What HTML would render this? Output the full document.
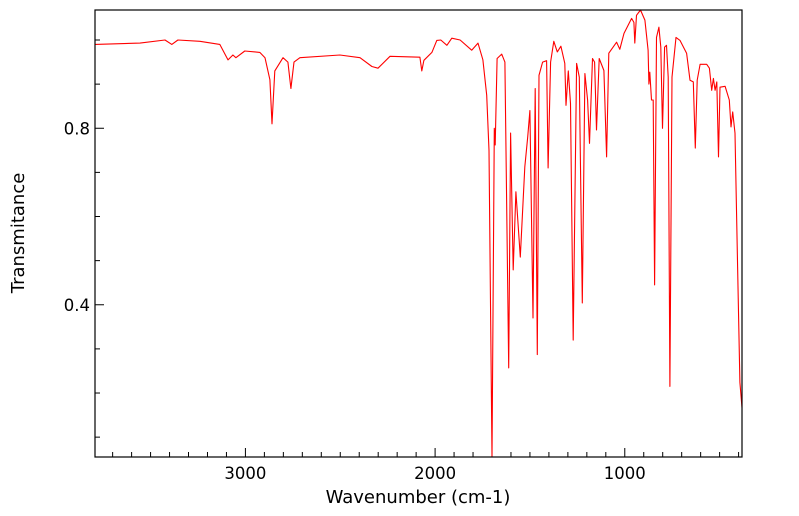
<!DOCTYPE html>
<html><head><meta charset="utf-8"><style>
body{margin:0;background:#fff}
svg{display:block;font-family:"DejaVu Sans","Liberation Sans",sans-serif}
</style></head><body>
<svg id="chart" width="799" height="516" viewBox="0 0 799 516" xmlns="http://www.w3.org/2000/svg">
<rect x="0" y="0" width="799" height="516" fill="#fff"/>
<g id="ticks"></g>
<path id="line" fill="none" stroke="#ff0000" stroke-width="1.1" stroke-linejoin="round"/>
<rect x="95" y="10" width="647" height="447" fill="none" stroke="#000" stroke-width="1.2"/>
<text x="418" y="503" text-anchor="middle" font-size="18">Wavenumber (cm-1)</text>
<text transform="translate(24,233) rotate(-90)" text-anchor="middle" font-size="18">Transmitance</text>
</svg>
<script>
const wavenumbers=[3793,3556,3424,3388,3356,3240,3135,3092,3066,3050,3003,2924,2897,2871,2860,2845,2802,2776,2760,2744,2713,2502,2396,2333,2301,2238,2080,2070,2059,2017,1991,1970,1938,1912,1868,1807,1774,1748,1728,1716,1700,1688,1683,1673,1649,1632,1612,1602,1588,1574,1551,1527,1512,1500,1484,1472,1461,1452,1433,1412,1404,1391,1374,1356,1337,1316,1310,1298,1286,1272,1254,1240,1224,1210,1196,1186,1170,1159,1149,1135,1110,1096,1084,1043,1026,1004,964,952,947,938,917,894,877,873,868,859,850,843,833,820,810,801,790,780,771,762,751,730,709,674,656,639,628,618,603,568,554,542,533,524,515,506,498,471,449,440,431,419,405,393,382];
const transmittance=[0.99,0.993,1.0,0.99,1.0,0.997,0.99,0.955,0.966,0.96,0.975,0.972,0.96,0.91,0.81,0.93,0.96,0.95,0.89,0.95,0.96,0.966,0.96,0.94,0.936,0.963,0.961,0.93,0.954,0.972,0.999,1.0,0.988,1.004,1.0,0.977,0.993,0.955,0.875,0.75,0.055,0.80,0.762,0.958,0.968,0.95,0.257,0.789,0.479,0.656,0.508,0.712,0.78,0.84,0.37,0.89,0.287,0.92,0.95,0.953,0.71,0.95,0.997,0.973,0.986,0.947,0.852,0.93,0.856,0.32,0.947,0.916,0.404,0.924,0.864,0.766,0.958,0.95,0.796,0.958,0.931,0.735,0.97,0.995,0.979,1.015,1.049,1.04,0.993,1.056,1.068,1.045,0.977,0.90,0.927,0.864,0.864,0.445,1.006,1.029,0.984,0.80,0.984,0.988,0.916,0.215,0.916,1.006,0.999,0.97,0.909,0.905,0.755,0.909,0.945,0.945,0.936,0.886,0.913,0.886,0.905,0.735,0.893,0.895,0.864,0.803,0.837,0.789,0.486,0.224,0.167];
const xTickLabels=[3000,2000,1000];
const yTickLabels=[0.4,0.8];
const X0=95,X1=742,Y0=10,Y1=457,WMAX=3793,WMIN=382,TMAX=1.068,TMIN=0.055;
function xScale(w){return X0+(WMAX-w)/(WMAX-WMIN)*(X1-X0);}
function yScale(t){return Y0+(TMAX-t)/(TMAX-TMIN)*(Y1-Y0);}
const NS="http://www.w3.org/2000/svg";
let d="";
for(let i=0;i<wavenumbers.length;i++){d+=(i?"L":"M")+xScale(wavenumbers[i]).toFixed(1)+","+Math.min(Y1,yScale(transmittance[i])).toFixed(1);}
document.getElementById("line").setAttribute("d",d);
const g=document.getElementById("ticks");
function ln(x1,y1,x2,y2){const l=document.createElementNS(NS,"line");l.setAttribute("x1",x1);l.setAttribute("y1",y1);l.setAttribute("x2",x2);l.setAttribute("y2",y2);l.setAttribute("stroke","#000");l.setAttribute("stroke-width","1");


g.appendChild(l);}
for(let w=3700;w>=400;w-=100){const x=xScale(w);const major=w%1000===0;ln(x,Y1,x,Y1-(major?9:5));}
for(let k=1;k<=10;k++){const t=k/10;const y=yScale(t);const major=(k===4||k===8);ln(X0,y,X0+(major?9:5),y);}
xTickLabels.forEach(v=>{const t=document.createElementNS(NS,"text");t.setAttribute("x",xScale(v));t.setAttribute("y",Y1+22);t.setAttribute("text-anchor","middle");t.setAttribute("font-size","16.5");t.textContent=v;


g.appendChild(t);});
yTickLabels.forEach(v=>{const t=document.createElementNS(NS,"text");t.setAttribute("x",X0-5);t.setAttribute("y",yScale(v)+6);t.setAttribute("text-anchor","end");t.setAttribute("font-size","16.5");t.textContent=v.toFixed(1);


g.appendChild(t);});
</script>
</body></html>
